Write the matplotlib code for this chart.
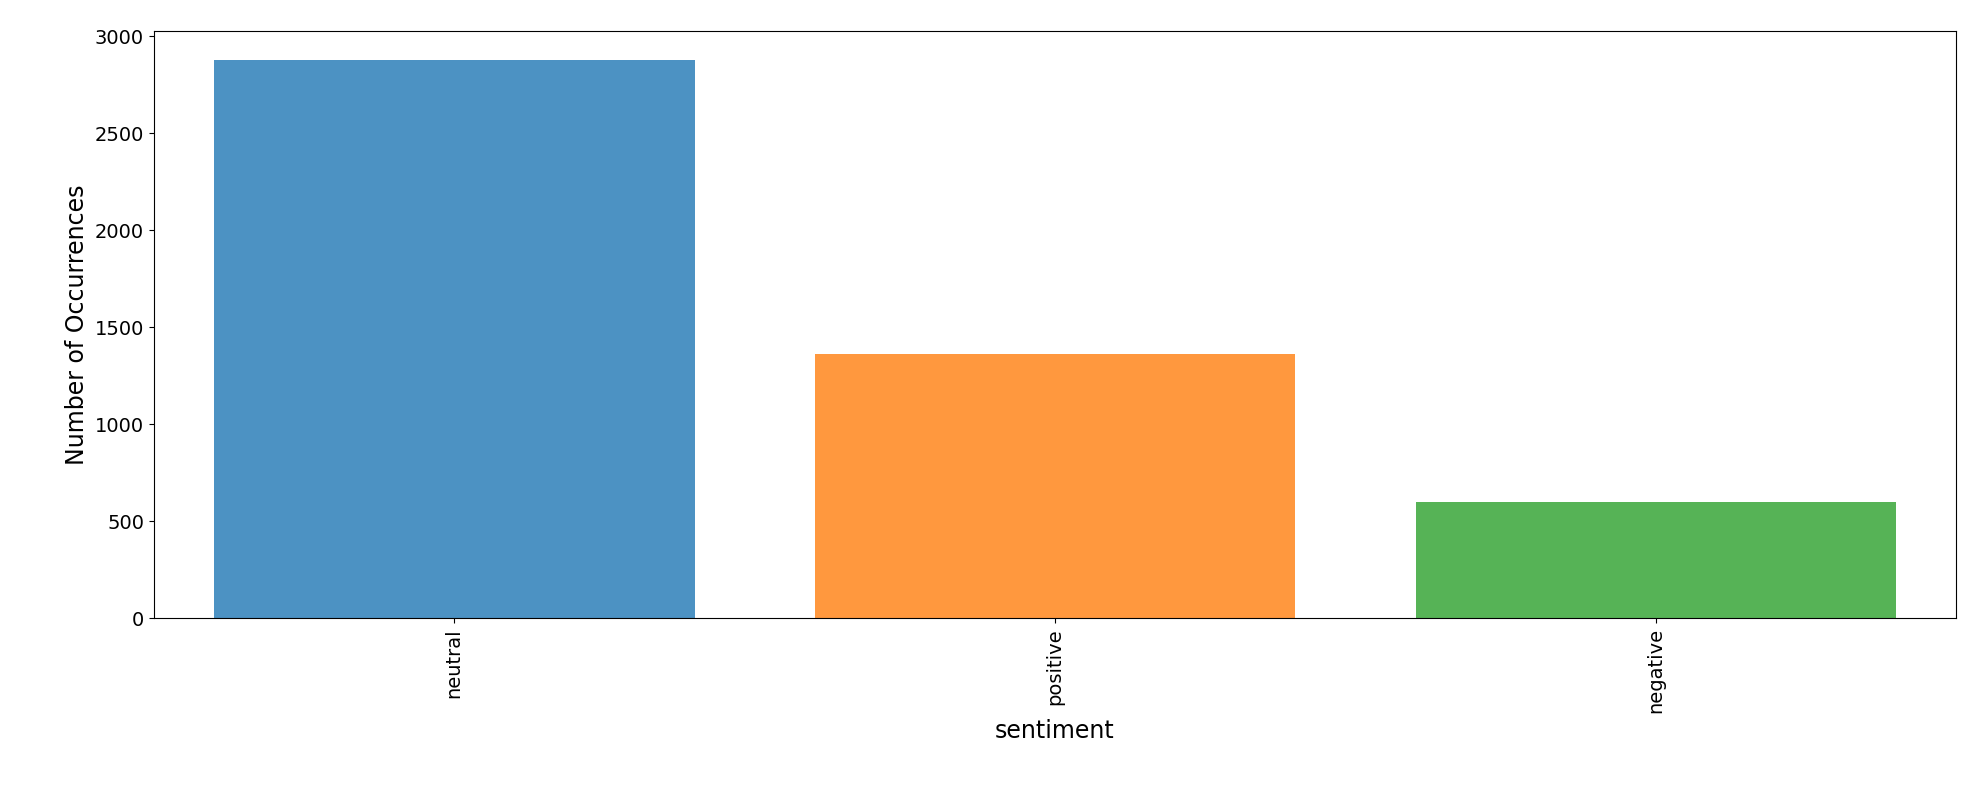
import matplotlib
matplotlib.use("Agg")
import matplotlib.pyplot as plt
import seaborn as sns

# Sentiment counts
categories = ["neutral", "positive", "negative"]
counts = [2878, 1363, 597]

colors = sns.color_palette()[:3]

fig = plt.figure(figsize=(19.72, 8.05), dpi=100)
ax = fig.add_axes([0.078, 0.232, 0.914, 0.73])
ax.bar(categories, counts, width=0.8, color=colors, alpha=0.8)
ax.set_xlim(-0.5, 2.5)
ax.set_ylim(0, 3030)
ax.set_yticks(range(0, 3001, 500))
ax.tick_params(axis="x", labelrotation=90, labelsize=14)
ax.tick_params(axis="y", labelsize=14)
ax.set_xlabel("sentiment", fontsize=17)
ax.set_ylabel("Number of Occurrences", fontsize=17)

fig.savefig("out.png", dpi=100)
